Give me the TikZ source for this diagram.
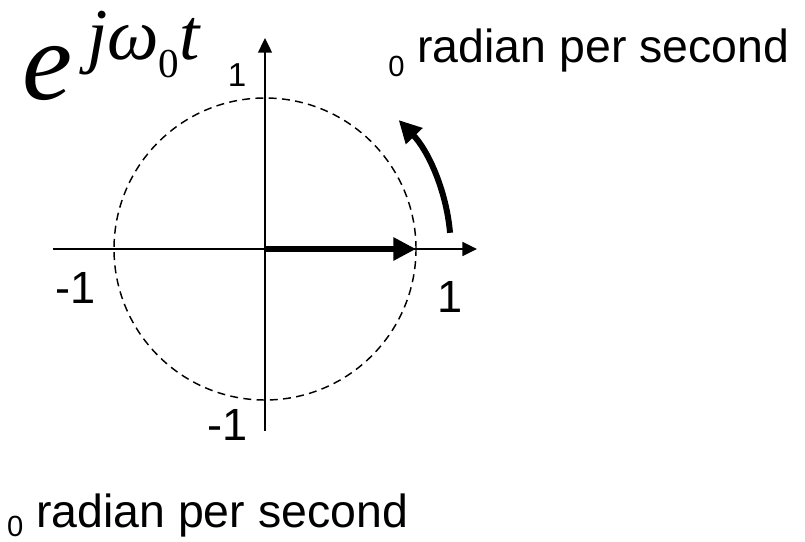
\documentclass[tikz,border=0pt]{standalone}
\usepackage{fontspec}
\setmainfont{Liberation Sans}
\newfontfamily\timesfont{Liberation Serif}
\usetikzlibrary{arrows.meta}

\begin{document}
\begin{tikzpicture}[x=4cm,y=4cm,
        axis/.style={line width=1.1pt,-{Triangle[length=11pt,width=10.5pt]}},
        phasor/.style={line width=5pt,-{Triangle[length=17pt,width=16.5pt]}},
        ticklbl/.style={font=\fontsize{34}{40}\selectfont,inner sep=0pt},
        ratelbl/.style={font=\fontsize{35}{42}\selectfont,inner sep=0pt,anchor=base west}]
        \useasboundingbox (-1.755,-1.934) rectangle (3.576,1.649);

        \coordinate (o) at (0,0);
        \coordinate (xl) at (-1.404,0);
        \coordinate (xr) at (1.404,0);
        \coordinate (yb) at (0,-1.205);
        \coordinate (yt) at (0,1.397);
        \coordinate (tip) at (1,0);

        \draw[axis] (xl) -- (xr);
        \draw[axis] (yb) -- (yt);
        \draw[line width=1.1pt,dash pattern=on 6pt off 4pt] (o) circle (1);

        \draw[phasor] (o) -- (tip);
        \draw[line width=4.5pt,-{Triangle[length=17pt,width=16.5pt]}] (5:1.23) arc (5:44:1.23);

        \node[ticklbl,font=\fontsize{25}{30}\selectfont] (ytop) at (-0.185,1.152) {1};
        \node[ticklbl] (xright) at (1.225,-0.32) {1};
        \node[ticklbl] (xleft) at (-1.252,-0.255) {-1};
        \node[ticklbl] (ybot) at (-0.245,-1.166) {-1};

        \node[ratelbl] (ratetop) at (0.815,1.232) {\raisebox{-10.5pt}{\fontsize{22}{26}\selectfont 0} radian per second};
        \node[ratelbl] (ratebot) at (-1.71,-1.841) {\raisebox{-7.5pt}{\fontsize{22}{26}\selectfont 0} radian per second};

        \node[font=\timesfont\itshape\fontsize{85}{90}\selectfont,inner sep=0pt,anchor=base west] (expe) at (-1.609,0.993) {e};
        \node[font=\timesfont\fontsize{55}{60}\selectfont,inner sep=0pt,anchor=base west] (expo) at (-1.18,1.252)
            {\itshape jω\raisebox{-13pt}{\upshape\fontsize{31}{34}\selectfont 0}t};
    \end{tikzpicture}
\end{document}
